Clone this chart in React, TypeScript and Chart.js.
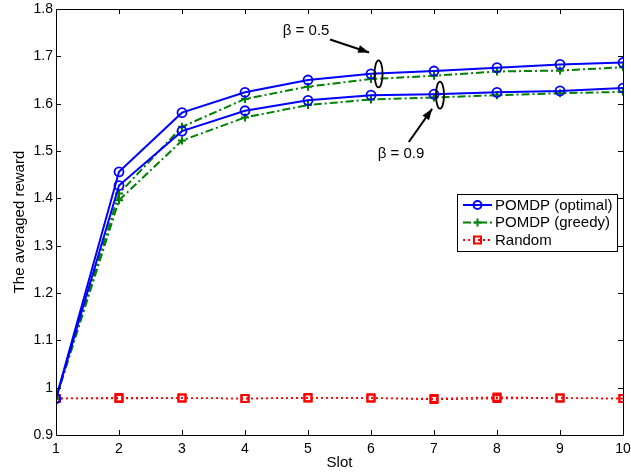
import React, { useEffect, useRef } from "react";
import { Chart, registerables } from "chart.js";

Chart.register(...registerables);

const slots = [1, 2, 3, 4, 5, 6, 7, 8, 9, 10];
const optimalBeta05 = [0.977, 1.456, 1.581, 1.624, 1.650, 1.663, 1.669, 1.676, 1.683, 1.687];
const optimalBeta09 = [0.977, 1.427, 1.542, 1.585, 1.607, 1.618, 1.620, 1.624, 1.627, 1.633];
const greedyBeta05 = [0.977, 1.410, 1.551, 1.610, 1.636, 1.652, 1.659, 1.668, 1.670, 1.677];
const greedyBeta09 = [0.977, 1.396, 1.522, 1.571, 1.597, 1.609, 1.613, 1.618, 1.622, 1.625];
const randomBeta05 = [0.977, 0.979, 0.978, 0.977, 0.979, 0.978, 0.977, 0.980, 0.978, 0.977];
const randomBeta09 = [0.977, 0.977, 0.978, 0.977, 0.978, 0.978, 0.975, 0.977, 0.978, 0.977];

const legendLabels = ["POMDP (optimal)", "POMDP (greedy)", "Random"];
const xTitle = "Slot";
const yTitle = "The averaged reward";

const FONT = "'Liberation Sans', Arial, Helvetica, sans-serif";
const BLUE = "#0000ff";
const GREEN = "#008000";
const RED = "#ff0000";
const DASHDOT = [8, 3, 2, 3];
const DOTTED = [2, 3];

const toPoints = (ys: number[]) => slots.map((x, i) => ({ x, y: ys[i] }));

const annotations = [
  { text: "β = 0.5", tx: 4.97, ty: 1.754, ax0: 5.35, ay0: 1.7355, ax1: 5.97, ay1: 1.708, ex: 6.12, ey: 1.663 },
  { text: "β = 0.9", tx: 6.476, ty: 1.494, ax0: 6.6, ay0: 1.519, ax1: 6.97, ay1: 1.589, ex: 7.095, ey: 1.618 },
];

const decorPlugin = {
  id: "decor",
  afterDraw(chart: any) {
    const ctx: CanvasRenderingContext2D = chart.ctx;
    const { left, right, top, bottom } = chart.chartArea;
    const xs = chart.scales.x;
    const ys = chart.scales.y;
    ctx.save();
    ctx.strokeStyle = "#000";
    ctx.lineWidth = 1;
    ctx.setLineDash([]);
    ctx.strokeRect(Math.round(left) + 0.5, Math.round(top) + 0.5, Math.round(right - left), Math.round(bottom - top));
    const tl = 5;
    ctx.beginPath();
    xs.ticks.forEach((t: any) => {
      const px = Math.round(xs.getPixelForValue(t.value)) + 0.5;
      ctx.moveTo(px, bottom);
      ctx.lineTo(px, bottom - tl);
      ctx.moveTo(px, top);
      ctx.lineTo(px, top + tl);
    });
    ys.ticks.forEach((t: any) => {
      const py = Math.round(ys.getPixelForValue(t.value)) + 0.5;
      ctx.moveTo(left, py);
      ctx.lineTo(left + tl, py);
      ctx.moveTo(right, py);
      ctx.lineTo(right - tl, py);
    });
    ctx.stroke();

    ctx.fillStyle = "#000";
    ctx.font = `15px ${FONT}`;
    ctx.textAlign = "center";
    ctx.textBaseline = "middle";
    ctx.fillText(xTitle, (left + right) / 2, 463);
    ctx.save();
    ctx.translate(20, (top + bottom) / 2);
    ctx.rotate(-Math.PI / 2);
    ctx.fillText(yTitle, 0, 0);
    ctx.restore();

    annotations.forEach((a) => {
      const tx = xs.getPixelForValue(a.tx);
      const ty = ys.getPixelForValue(a.ty);
      ctx.fillStyle = "#000";
      ctx.font = `15px ${FONT}`;
      ctx.fillText(a.text, tx, ty);
      const x0 = xs.getPixelForValue(a.ax0);
      const y0 = ys.getPixelForValue(a.ay0);
      const x1 = xs.getPixelForValue(a.ax1);
      const y1 = ys.getPixelForValue(a.ay1);
      ctx.strokeStyle = "#000";
      ctx.lineWidth = 2;
      ctx.beginPath();
      ctx.moveTo(x0, y0);
      ctx.lineTo(x1, y1);
      ctx.stroke();
      const ang = Math.atan2(y1 - y0, x1 - x0);
      const hl = 11;
      const hw = 4;
      ctx.beginPath();
      ctx.moveTo(x1, y1);
      ctx.lineTo(x1 - hl * Math.cos(ang) + hw * Math.sin(ang), y1 - hl * Math.sin(ang) - hw * Math.cos(ang));
      ctx.lineTo(x1 - hl * Math.cos(ang) - hw * Math.sin(ang), y1 - hl * Math.sin(ang) + hw * Math.cos(ang));
      ctx.closePath();
      ctx.fill();
      const ex = xs.getPixelForValue(a.ex);
      const ey = ys.getPixelForValue(a.ey);
      ctx.lineWidth = 1.8;
      ctx.beginPath();
      ctx.ellipse(ex, ey, 4, 13.5, 0, 0, Math.PI * 2);
      ctx.stroke();
    });

    const bx = right - 166;
    const by = 194;
    const bw = 160;
    const bh = 57;
    ctx.fillStyle = "#fff";
    ctx.fillRect(bx, by, bw, bh);
    ctx.strokeStyle = "#000";
    ctx.lineWidth = 1;
    ctx.setLineDash([]);
    ctx.strokeRect(bx + 0.5, by + 0.5, bw, bh);
    const rowsY = [by + 11, by + 28.5, by + 46];
    const styles = [
      { color: BLUE, dash: [] as number[], marker: "circle" },
      { color: GREEN, dash: DASHDOT, marker: "plus" },
      { color: RED, dash: DOTTED, marker: "square" },
    ];
    styles.forEach((s, i) => {
      const y = rowsY[i];
      const lx0 = bx + 6;
      const lx1 = bx + 35;
      const mx = bx + 20.5;
      ctx.strokeStyle = s.color;
      ctx.lineWidth = 2;
      ctx.setLineDash(s.dash);
      ctx.beginPath();
      ctx.moveTo(lx0, y);
      ctx.lineTo(lx1, y);
      ctx.stroke();
      ctx.setLineDash([]);
      ctx.beginPath();
      if (s.marker === "circle") {
        ctx.arc(mx, y, 4, 0, Math.PI * 2);
      } else if (s.marker === "plus") {
        ctx.moveTo(mx - 4, y);
        ctx.lineTo(mx + 4, y);
        ctx.moveTo(mx, y - 4);
        ctx.lineTo(mx, y + 4);
      } else {
        ctx.rect(mx - 3.5, y - 3.5, 7, 7);
      }
      ctx.stroke();
      ctx.fillStyle = "#000";
      ctx.font = `15px ${FONT}`;
      ctx.textAlign = "left";
      ctx.textBaseline = "middle";
      ctx.fillText(legendLabels[i], bx + 38, y + 0.5);
    });
    ctx.restore();
  },
};

export default function App() {
  const ref = useRef<HTMLCanvasElement | null>(null);
  useEffect(() => {
    document.body.style.margin = "0";
    if (!ref.current) return;
    const optimalStyle = {
      borderColor: BLUE,
      backgroundColor: "rgba(0,0,0,0)",
      borderWidth: 2,
      pointStyle: "circle",
      pointRadius: 4.5,
      pointBorderWidth: 1.8,
      pointBorderColor: BLUE,
      pointBackgroundColor: "rgba(0,0,0,0)",
    };
    const greedyStyle = {
      borderColor: GREEN,
      backgroundColor: "rgba(0,0,0,0)",
      borderWidth: 2,
      borderDash: DASHDOT,
      pointStyle: "cross",
      pointRadius: 4,
      pointBorderWidth: 2,
      pointBorderColor: GREEN,
      pointBackgroundColor: GREEN,
    };
    const randomStyle = {
      borderColor: RED,
      backgroundColor: "rgba(0,0,0,0)",
      borderWidth: 1.5,
      borderDash: DOTTED,
      pointStyle: "rect",
      pointRadius: 5,
      pointBorderWidth: 2,
      pointBorderColor: RED,
      pointBackgroundColor: "rgba(0,0,0,0)",
    };
    const chart = new Chart(ref.current, {
      type: "line",
      data: {
        datasets: [
          { label: legendLabels[0] + " β=0.5", data: toPoints(optimalBeta05), ...optimalStyle },
          { label: legendLabels[0] + " β=0.9", data: toPoints(optimalBeta09), ...optimalStyle },
          { label: legendLabels[1] + " β=0.5", data: toPoints(greedyBeta05), ...greedyStyle },
          { label: legendLabels[1] + " β=0.9", data: toPoints(greedyBeta09), ...greedyStyle },
          { label: legendLabels[2] + " β=0.5", data: toPoints(randomBeta05), ...randomStyle },
          { label: legendLabels[2] + " β=0.9", data: toPoints(randomBeta09), ...randomStyle },
        ] as any,
      },
      options: {
        animation: false,
        responsive: false,
        maintainAspectRatio: false,
        layout: { padding: { top: 9, right: 8, left: 0, bottom: 0 } },
        plugins: { legend: { display: false }, tooltip: { enabled: false } },
        elements: { line: { tension: 0 } },
        scales: {
          x: {
            type: "linear",
            min: 1,
            max: 10,
            grid: { display: false, drawTicks: false },
            border: { display: false },
            ticks: {
              stepSize: 1,
              autoSkip: false,
              maxRotation: 0,
              padding: 6,
              color: "#000",
              font: { family: FONT, size: 14 },
            },
            afterFit: (s: any) => {
              s.height = 41;
              s.paddingLeft = 0;
              s.paddingRight = 0;
            },
          },
          y: {
            type: "linear",
            min: 0.9,
            max: 1.8,
            grid: { display: false, drawTicks: false },
            border: { display: false },
            ticks: {
              stepSize: 0.1,
              padding: 3,
              color: "#000",
              font: { family: FONT, size: 14 },
              callback: (v: any) => String(Number(Number(v).toFixed(1))),
            },
            afterFit: (s: any) => {
              s.width = 56;
              s.paddingTop = 0;
              s.paddingBottom = 0;
            },
          },
        },
      },
      plugins: [decorPlugin],
    });
    return () => chart.destroy();
  }, []);
  return (
    <div style={{ width: 631, height: 476, background: "#fff" }}>
      <canvas ref={ref} width={631} height={476} style={{ display: "block" }} />
    </div>
  );
}
